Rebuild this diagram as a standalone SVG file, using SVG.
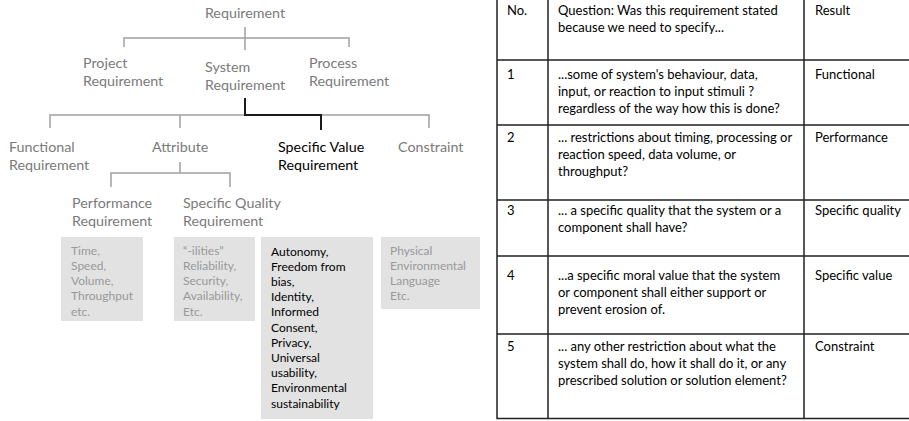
<svg xmlns="http://www.w3.org/2000/svg" width="909" height="421" viewBox="0 0 909 421">
<style>
  text { font-family: Lato, "Liberation Sans", sans-serif; }
  .lbl { font-size: 14.3px; fill: #7a7a7a; }
  .lblk { font-size: 14.3px; fill: #000000; }
  .box { fill: #e2e2e2; }
  .bt { font-size: 12px; fill: #999999; }
  .btk { font-size: 12px; fill: #000000; }
  .ln { stroke: #a0a0a0; stroke-width: 1.5; fill: none; }
  .lnk { stroke: #1a1a1a; stroke-width: 2; fill: none; }
  .tb { stroke: #222222; stroke-width: 1.5; fill: none; }
  .tt { font-size: 13px; fill: #000000; }
</style>

<g id="connectors">
  <path class="ln" d="M245 27 V50 M124 47 V38 H349 V47"/>
  <path class="ln" d="M50 128 V115 H429 V128 M180 115 V128"/>
  <path class="lnk" d="M245 98 V115 H321 V130"/>
  <path class="ln" d="M180 162 V173 M111 187 V173 H230 V187"/>
</g>

<g id="requirement"><text class="lbl" x="245" y="18" text-anchor="middle">Requirement</text></g>
<g id="project-requirement"><text class="lbl" x="83" y="68">Project</text><text class="lbl" x="83" y="86">Requirement</text></g>
<g id="system-requirement"><text class="lbl" x="205" y="72">System</text><text class="lbl" x="205" y="90">Requirement</text></g>
<g id="process-requirement"><text class="lbl" x="309" y="68">Process</text><text class="lbl" x="309" y="86">Requirement</text></g>
<g id="functional-requirement"><text class="lbl" x="9" y="152">Functional</text><text class="lbl" x="9" y="169.5">Requirement</text></g>
<g id="attribute"><text class="lbl" x="152" y="152">Attribute</text></g>
<g id="specific-value-requirement"><text class="lblk" x="278" y="152">Specific Value</text><text class="lblk" x="278" y="169.5">Requirement</text></g>
<g id="constraint"><text class="lbl" x="398" y="152">Constraint</text></g>
<g id="performance-requirement"><text class="lbl" x="72" y="208">Performance</text><text class="lbl" x="72" y="226">Requirement</text></g>
<g id="specific-quality-requirement"><text class="lbl" x="183" y="208">Specific Quality</text><text class="lbl" x="183" y="226">Requirement</text></g>

<g id="box-performance">
  <rect class="box" x="61" y="237" width="82" height="84"/>
  <text class="bt" x="71" y="254.5">Time,</text>
  <text class="bt" x="71" y="269.8">Speed,</text>
  <text class="bt" x="71" y="285.1">Volume,</text>
  <text class="bt" x="71" y="300.4">Throughput</text>
  <text class="bt" x="71" y="315.7">etc.</text>
</g>
<g id="box-quality">
  <rect class="box" x="174" y="237" width="81" height="84"/>
  <text class="bt" x="183" y="254.5">“-ilities”</text>
  <text class="bt" x="183" y="269.8">Reliability,</text>
  <text class="bt" x="183" y="285.1">Security,</text>
  <text class="bt" x="183" y="300.4">Availability,</text>
  <text class="bt" x="183" y="315.7">Etc.</text>
</g>
<g id="box-value">
  <rect class="box" x="261" y="237" width="112" height="182"/>
  <text class="btk" x="271" y="255.5">Autonomy,</text>
  <text class="btk" x="271" y="270.7">Freedom from</text>
  <text class="btk" x="271" y="285.9">bias,</text>
  <text class="btk" x="271" y="301.1">Identity,</text>
  <text class="btk" x="271" y="316.3">Informed</text>
  <text class="btk" x="271" y="331.5">Consent,</text>
  <text class="btk" x="271" y="346.7">Privacy,</text>
  <text class="btk" x="271" y="361.9">Universal</text>
  <text class="btk" x="271" y="377.1">usability,</text>
  <text class="btk" x="271" y="392.3">Environmental</text>
  <text class="btk" x="271" y="407.5">sustainability</text>
</g>
<g id="box-constraint">
  <rect class="box" x="381" y="237" width="99" height="72"/>
  <text class="bt" x="390" y="254.5">Physical</text>
  <text class="bt" x="390" y="269.8">Environmental</text>
  <text class="bt" x="390" y="285.1">Language</text>
  <text class="bt" x="390" y="300.4">Etc.</text>
</g>

<g id="table">
  <path class="tb" d="M497 0 V418.5 M548 0 V418.5 M804 0 V418.5 M496.3 418.5 H909 M497 60 H909 M497 125 H909 M497 200 H909 M497 256 H909 M497 334 H909"/>
  <text class="tt" x="507" y="15">No.</text>
  <text class="tt" x="558" y="15">Question: Was this requirement stated</text>
  <text class="tt" x="558" y="32">because we need to specify...</text>
  <text class="tt" x="815" y="15">Result</text>

  <text class="tt" x="507" y="79">1</text>
  <text class="tt" x="558" y="79">...some of system's behaviour, data,</text>
  <text class="tt" x="558" y="96">input, or reaction to input stimuli ?</text>
  <text class="tt" x="558" y="113">regardless of the way how this is done?</text>
  <text class="tt" x="815" y="79">Functional</text>

  <text class="tt" x="507" y="142">2</text>
  <text class="tt" x="558" y="142">... restrictions about timing, processing or</text>
  <text class="tt" x="558" y="159">reaction speed, data volume, or</text>
  <text class="tt" x="558" y="176">throughput?</text>
  <text class="tt" x="815" y="142">Performance</text>

  <text class="tt" x="507" y="215">3</text>
  <text class="tt" x="558" y="215">... a specific quality that the system or a</text>
  <text class="tt" x="558" y="232">component shall have?</text>
  <text class="tt" x="815" y="215">Specific quality</text>

  <text class="tt" x="507" y="280">4</text>
  <text class="tt" x="558" y="280">...a specific moral value that the system</text>
  <text class="tt" x="558" y="297">or component shall either support or</text>
  <text class="tt" x="558" y="314">prevent erosion of.</text>
  <text class="tt" x="815" y="280">Specific value</text>

  <text class="tt" x="507" y="351">5</text>
  <text class="tt" x="558" y="351">... any other restriction about what the</text>
  <text class="tt" x="558" y="368">system shall do, how it shall do it, or any</text>
  <text class="tt" x="558" y="385">prescribed solution or solution element?</text>
  <text class="tt" x="815" y="351">Constraint</text>
</g>
</svg>
